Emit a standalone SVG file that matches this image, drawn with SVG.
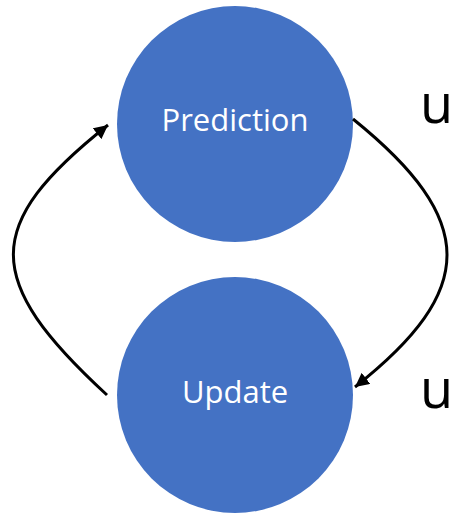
<svg xmlns="http://www.w3.org/2000/svg" width="449" height="516" viewBox="0 0 449 516">
<style>
.node{fill:#4472C4}
.lbl{font-family:"Open Sans","Liberation Sans",sans-serif;font-size:31px;fill:#fff;text-anchor:middle}
.side{font-family:"Open Sans","Liberation Sans",sans-serif;font-size:54px;fill:#000}
.edge{fill:none;stroke:#000;stroke-width:3}
</style>
<defs>
<marker id="ah" markerUnits="userSpaceOnUse" markerWidth="16" markerHeight="14" refX="14" refY="7" orient="auto">
<path d="M0,0 L14,7 L0,14 Z" fill="#000"/>
</marker>
</defs>
<rect width="449" height="516" fill="#fff"/>
<g id="prediction">
<circle class="node" cx="235" cy="124" r="118"/>
<text class="lbl" x="235" y="131">Prediction</text>
</g>
<g id="update">
<circle class="node" cx="235" cy="395" r="118"/>
<text class="lbl" x="235" y="403">Update</text>
</g>
<g id="connectors">
<path class="edge" d="M107,395 C-18,280 -18,225 108,125" marker-end="url(#ah)"/>
<path class="edge" d="M353,119 C478,220 478,290 355,387" marker-end="url(#ah)"/>
</g>
<text class="side" x="420" y="123">u</text>
<text class="side" x="420" y="408">u</text>
</svg>
